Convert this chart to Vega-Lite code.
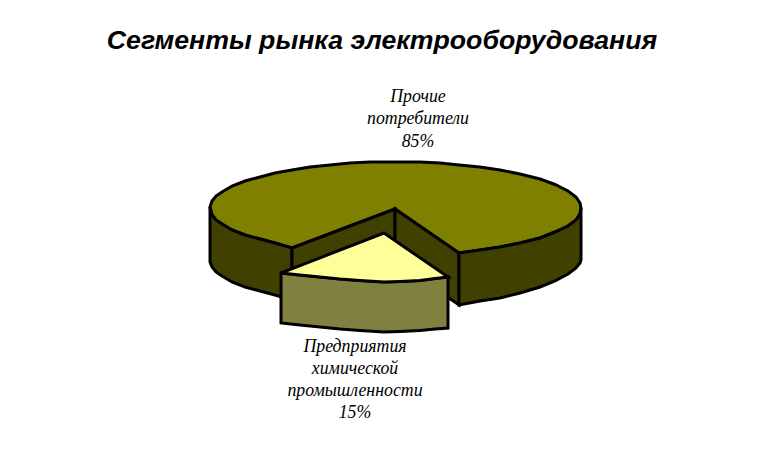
{
  "$schema": "https://vega.github.io/schema/vega-lite/v6.json",
  "width": 770,
  "height": 453,
  "padding": 0,
  "autosize": "none",
  "background": "white",
  "title": {
    "text": "Сегменты рынка электрооборудования",
    "font": "Liberation Sans",
    "fontSize": 26.7,
    "fontStyle": "italic",
    "fontWeight": "bold",
    "color": "#000",
    "anchor": "middle",
    "dx": -3,
    "dy": 55,
    "offset": 0
  },
  "config": {"view": {"stroke": null}},
  "layer": [
    {
      "data": {
        "values": [
          {"part": "Прочие, верх", "x": 210, "top": 207, "bottom": 207},
          {"part": "Прочие, верх", "x": 212, "top": 201, "bottom": 215},
          {"part": "Прочие, верх", "x": 216, "top": 196, "bottom": 220},
          {"part": "Прочие, верх", "x": 222, "top": 192, "bottom": 224},
          {"part": "Прочие, верх", "x": 232, "top": 186, "bottom": 230},
          {"part": "Прочие, верх", "x": 245, "top": 181, "bottom": 235},
          {"part": "Прочие, верх", "x": 260, "top": 177, "bottom": 239},
          {"part": "Прочие, верх", "x": 275, "top": 173, "bottom": 243},
          {"part": "Прочие, верх", "x": 292, "top": 170, "bottom": 248},
          {"part": "Прочие, верх", "x": 310, "top": 167, "bottom": 241.2},
          {"part": "Прочие, верх", "x": 330, "top": 165, "bottom": 233.6},
          {"part": "Прочие, верх", "x": 350, "top": 163, "bottom": 226},
          {"part": "Прочие, верх", "x": 370, "top": 162, "bottom": 218.5},
          {"part": "Прочие, верх", "x": 395, "top": 162, "bottom": 209},
          {"part": "Прочие, верх", "x": 420, "top": 162, "bottom": 226.2},
          {"part": "Прочие, верх", "x": 440, "top": 163, "bottom": 240},
          {"part": "Прочие, верх", "x": 459, "top": 165, "bottom": 253},
          {"part": "Прочие, верх", "x": 480, "top": 167, "bottom": 250},
          {"part": "Прочие, верх", "x": 500, "top": 170, "bottom": 247},
          {"part": "Прочие, верх", "x": 520, "top": 174, "bottom": 243},
          {"part": "Прочие, верх", "x": 540, "top": 179, "bottom": 238},
          {"part": "Прочие, верх", "x": 555, "top": 184.5, "bottom": 232},
          {"part": "Прочие, верх", "x": 568, "top": 191, "bottom": 226},
          {"part": "Прочие, верх", "x": 576, "top": 197, "bottom": 220},
          {"part": "Прочие, верх", "x": 580, "top": 203, "bottom": 214},
          {"part": "Прочие, верх", "x": 581, "top": 208, "bottom": 208},

          {"part": "Прочие, левый бок", "x": 210, "top": 207, "bottom": 262},
          {"part": "Прочие, левый бок", "x": 212, "top": 215, "bottom": 267},
          {"part": "Прочие, левый бок", "x": 216, "top": 220, "bottom": 272},
          {"part": "Прочие, левый бок", "x": 222, "top": 224, "bottom": 276},
          {"part": "Прочие, левый бок", "x": 232, "top": 230, "bottom": 282},
          {"part": "Прочие, левый бок", "x": 245, "top": 235, "bottom": 287},
          {"part": "Прочие, левый бок", "x": 260, "top": 239, "bottom": 291},
          {"part": "Прочие, левый бок", "x": 275, "top": 243, "bottom": 295},
          {"part": "Прочие, левый бок", "x": 292, "top": 248, "bottom": 300},

          {"part": "Прочие, срез левый", "x": 292, "top": 248, "bottom": 300},
          {"part": "Прочие, срез левый", "x": 395, "top": 209, "bottom": 261},

          {"part": "Прочие, срез правый", "x": 395, "top": 209, "bottom": 261},
          {"part": "Прочие, срез правый", "x": 459, "top": 253, "bottom": 305},

          {"part": "Прочие, правый бок", "x": 459, "top": 253, "bottom": 305},
          {"part": "Прочие, правый бок", "x": 480, "top": 250, "bottom": 301},
          {"part": "Прочие, правый бок", "x": 500, "top": 247, "bottom": 298},
          {"part": "Прочие, правый бок", "x": 520, "top": 243, "bottom": 293},
          {"part": "Прочие, правый бок", "x": 540, "top": 238, "bottom": 287},
          {"part": "Прочие, правый бок", "x": 555, "top": 232, "bottom": 281},
          {"part": "Прочие, правый бок", "x": 568, "top": 226, "bottom": 274},
          {"part": "Прочие, правый бок", "x": 576, "top": 220, "bottom": 268},
          {"part": "Прочие, правый бок", "x": 580, "top": 214, "bottom": 263},
          {"part": "Прочие, правый бок", "x": 581, "top": 208, "bottom": 260},

          {"part": "Химия, бок", "x": 281, "top": 273, "bottom": 323},
          {"part": "Химия, бок", "x": 300, "top": 275, "bottom": 325},
          {"part": "Химия, бок", "x": 320, "top": 277, "bottom": 327},
          {"part": "Химия, бок", "x": 340, "top": 279, "bottom": 329},
          {"part": "Химия, бок", "x": 360, "top": 280.5, "bottom": 330.5},
          {"part": "Химия, бок", "x": 384, "top": 282, "bottom": 332},
          {"part": "Химия, бок", "x": 400, "top": 281.5, "bottom": 331.5},
          {"part": "Химия, бок", "x": 420, "top": 280.5, "bottom": 330.5},
          {"part": "Химия, бок", "x": 435, "top": 278.5, "bottom": 329},
          {"part": "Химия, бок", "x": 448, "top": 277, "bottom": 328},

          {"part": "Химия, верх", "x": 281, "top": 273, "bottom": 273},
          {"part": "Химия, верх", "x": 300, "top": 265.6, "bottom": 275},
          {"part": "Химия, верх", "x": 320, "top": 257.9, "bottom": 277},
          {"part": "Химия, верх", "x": 340, "top": 250, "bottom": 279},
          {"part": "Химия, верх", "x": 360, "top": 242.3, "bottom": 280.5},
          {"part": "Химия, верх", "x": 384, "top": 233, "bottom": 282},
          {"part": "Химия, верх", "x": 400, "top": 244, "bottom": 281.5},
          {"part": "Химия, верх", "x": 420, "top": 257.8, "bottom": 280.5},
          {"part": "Химия, верх", "x": 435, "top": 268, "bottom": 278.5},
          {"part": "Химия, верх", "x": 448, "top": 277, "bottom": 277}
        ]
      },
      "mark": {"type": "area", "stroke": "#000", "strokeWidth": 3, "strokeJoin": "miter", "opacity": 1},
      "encoding": {
        "x": {"field": "x", "type": "quantitative", "scale": {"domain": [0, 770], "nice": false}, "axis": null},
        "y": {"field": "top", "type": "quantitative", "scale": {"domain": [453, 0], "nice": false}, "axis": null},
        "y2": {"field": "bottom"},
        "color": {
          "field": "part",
          "type": "nominal",
          "legend": null,
          "scale": {
            "domain": ["Прочие, верх", "Прочие, левый бок", "Прочие, срез левый", "Прочие, срез правый", "Прочие, правый бок", "Химия, бок", "Химия, верх"],
            "range": ["#808000", "#404000", "#404000", "#404000", "#404000", "#808040", "#ffff99"]
          }
        }
      }
    },
    {
      "data": {
        "values": [
          {"label": "Прочие\nпотребители\n85%", "x": 418, "y": 97},
          {"label": "Предприятия\nхимической\nпромышленности\n15%", "x": 355, "y": 346.5}
        ]
      },
      "mark": {
        "type": "text",
        "font": "Liberation Serif",
        "fontSize": 17.8,
        "fontStyle": "italic",
        "color": "#000",
        "align": "center",
        "baseline": "middle",
        "lineBreak": "\n",
        "lineHeight": 22.3
      },
      "encoding": {
        "x": {"field": "x", "type": "quantitative", "axis": null},
        "y": {"field": "y", "type": "quantitative", "axis": null},
        "text": {"field": "label", "type": "nominal"}
      }
    }
  ]
}
